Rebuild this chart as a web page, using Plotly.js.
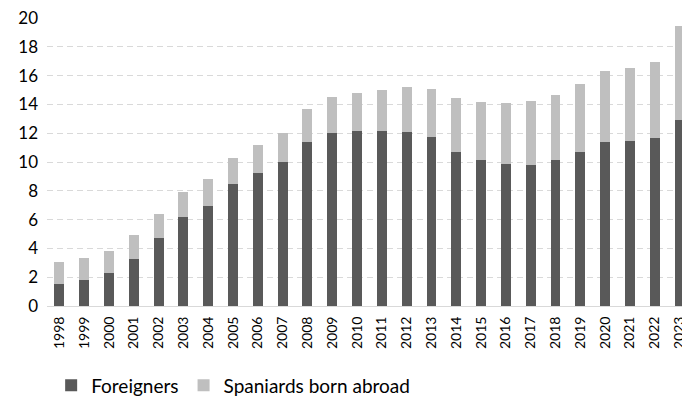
<!DOCTYPE html>
<html>
<head>
<meta charset="utf-8">
<script src="https://cdn.plot.ly/plotly-3.0.1.min.js"></script>
<style>html,body{margin:0;padding:0;background:#fff;}#chart{width:682px;height:401px;}</style>
</head>
<body>
<div id="chart"></div>
<script>
const years = ["1998","1999","2000","2001","2002","2003","2004","2005","2006","2007","2008","2009","2010","2011","2012","2013","2014","2015","2016","2017","2018","2019","2020","2021","2022","2023"];
const foreigners = [1.55,1.8,2.27,3.29,4.72,6.18,6.94,8.45,9.21,9.98,11.39,12.04,12.15,12.15,12.08,11.74,10.69,10.12,9.86,9.79,10.12,10.69,11.39,11.46,11.67,12.92];
const spaniardsBornAbroad = [1.48,1.51,1.55,1.62,1.67,1.76,1.88,1.85,1.99,2.06,2.27,2.45,2.66,2.85,3.11,3.33,3.73,4.05,4.24,4.45,4.56,4.70,4.91,5.09,5.27,6.52];
const yTicks = [0,2,4,6,8,10,12,14,16,18,20];

const traces = [
  {type:'bar', name:'Foreigners', x:years, y:foreigners, marker:{color:'#595959'}},
  {type:'bar', name:'Spaniards born abroad', x:years, y:spaniardsBornAbroad, marker:{color:'#bfbfbf'}}
];
const font = "Lato, 'Noto Sans', sans-serif";
const layout = {
  width:682, height:401,
  margin:{l:47, r:0, t:18, b:95},
  barmode:'stack', bargap:0.6,
  paper_bgcolor:'#fff', plot_bgcolor:'#fff',
  showlegend:true,
  font:{family:font, color:'#000'},
  xaxis:{type:'category', range:[-0.5,25.1], tickangle:-90, tickfont:{size:14, color:'#000'},
    showgrid:false, showline:true, linecolor:'#d9d9d9', linewidth:1, ticks:'', ticklen:0, ticklabelstandoff:4},
  yaxis:{range:[0,20], tickvals:yTicks, ticktext:yTicks.map(String), tickfont:{size:17, color:'#000'},
    showgrid:true, gridcolor:'#d9d9d9', griddash:'6px,4px', gridwidth:1, zeroline:false, showline:false, ticks:'', ticklabelstandoff:8},
  legend:{orientation:'h', xref:'container', yref:'container', x:0.075, y:0.086, xanchor:'left', yanchor:'top',
    font:{size:19, color:'#000'}, traceorder:'normal', itemwidth:30}
};
Plotly.newPlot('chart', traces, layout, {displayModeBar:false, staticPlot:true});
</script>
</body>
</html>
